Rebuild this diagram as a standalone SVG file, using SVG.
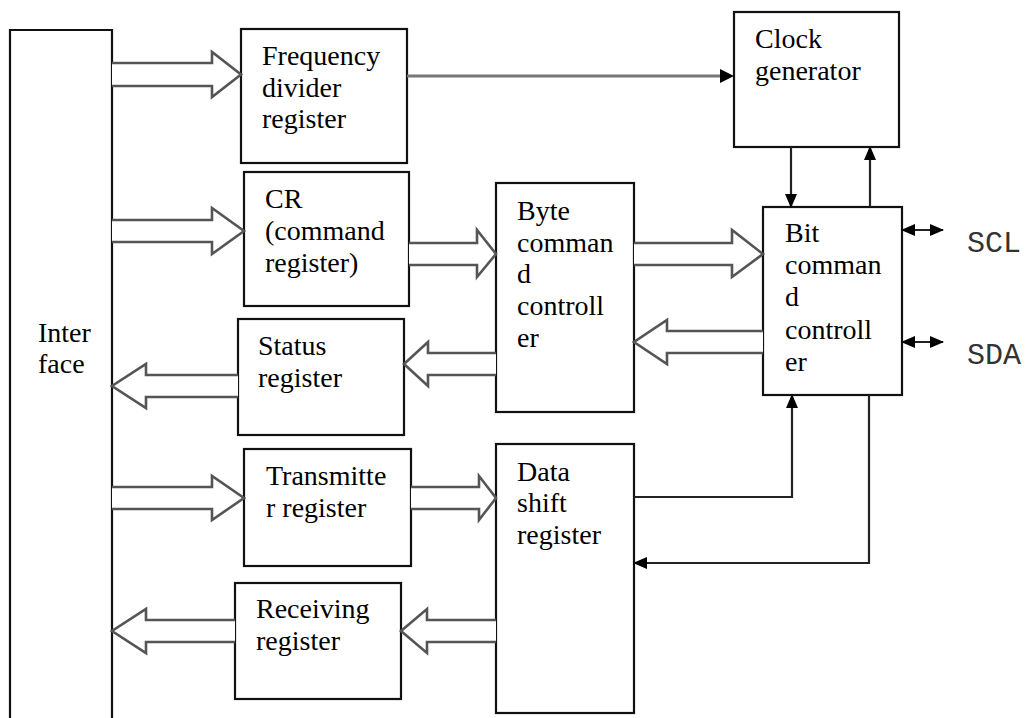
<svg xmlns="http://www.w3.org/2000/svg" width="1029" height="718" viewBox="0 0 1029 718">
  <style>
    .box { fill: #fff; stroke: #111; stroke-width: 2.2; }
    .lbl { font-family: "Liberation Serif", "Times New Roman", serif; font-size: 28px; fill: #000; }
    .pin { font-family: "Liberation Mono", "Courier New", monospace; font-size: 30px; fill: #333; }
    .bus { fill: #fff; stroke: #555; stroke-width: 2.6; stroke-linejoin: miter; }
    .wire { fill: none; stroke: #222; stroke-width: 2.2; }
    .feed { fill: none; stroke: #777; stroke-width: 3.2; }
  </style>
  <defs>
    <marker id="head" viewBox="0 0 14 12" refX="13" refY="6" markerWidth="14" markerHeight="12" markerUnits="userSpaceOnUse" orient="auto-start-reverse">
      <path d="M0,0 L14,6 L0,12 z" fill="#000"/>
    </marker>
  </defs>

  <rect width="1029" height="718" fill="#fff"/>

  <!-- Interface block (open at the bottom edge of the page) -->
  <g id="interface">
    <path d="M10,730 V30 H112 V730" fill="#fff" stroke="#111" stroke-width="2.2"/>
    <text class="lbl" x="38" y="342">Inter</text>
    <text class="lbl" x="38" y="373">face</text>
  </g>

  <g id="freq-divider">
    <rect class="box" x="241" y="29" width="166" height="134"/>
    <text class="lbl" x="262" y="65">Frequency</text>
    <text class="lbl" x="262" y="97">divider</text>
    <text class="lbl" x="262" y="128">register</text>
  </g>

  <g id="clock-generator">
    <rect class="box" x="734" y="12" width="165" height="135"/>
    <text class="lbl" x="755" y="48">Clock</text>
    <text class="lbl" x="755" y="80">generator</text>
  </g>

  <g id="command-register">
    <rect class="box" x="244" y="172" width="165" height="134"/>
    <text class="lbl" x="265" y="208">CR</text>
    <text class="lbl" x="265" y="240">(command</text>
    <text class="lbl" x="265" y="272">register)</text>
  </g>

  <g id="byte-controller">
    <rect class="box" x="496" y="183" width="138" height="229"/>
    <text class="lbl" x="517" y="220">Byte</text>
    <text class="lbl" x="517" y="252">comman</text>
    <text class="lbl" x="517" y="283">d</text>
    <text class="lbl" x="517" y="315">controll</text>
    <text class="lbl" x="517" y="347">er</text>
  </g>

  <g id="bit-controller">
    <rect class="box" x="763" y="207" width="139" height="188"/>
    <text class="lbl" x="785" y="242">Bit</text>
    <text class="lbl" x="785" y="274">comman</text>
    <text class="lbl" x="785" y="306">d</text>
    <text class="lbl" x="785" y="339">controll</text>
    <text class="lbl" x="785" y="371">er</text>
  </g>

  <g id="status-register">
    <rect class="box" x="238" y="319" width="166" height="116"/>
    <text class="lbl" x="258" y="355">Status</text>
    <text class="lbl" x="258" y="387">register</text>
  </g>

  <g id="transmitter-register">
    <rect class="box" x="244" y="449" width="167" height="117"/>
    <text class="lbl" x="266" y="485">Transmitte</text>
    <text class="lbl" x="266" y="517">r register</text>
  </g>

  <g id="data-shift-register">
    <rect class="box" x="496" y="444" width="138" height="269"/>
    <text class="lbl" x="517" y="481">Data</text>
    <text class="lbl" x="517" y="512">shift</text>
    <text class="lbl" x="517" y="544">register</text>
  </g>

  <g id="receiving-register">
    <rect class="box" x="235" y="583" width="166" height="116"/>
    <text class="lbl" x="256" y="618">Receiving</text>
    <text class="lbl" x="256" y="650">register</text>
  </g>

  <g id="pins">
    <text class="pin" x="967" y="252">SCL</text>
    <text class="pin" x="967" y="364">SDA</text>
  </g>

  <g id="connectors">
    <!-- hollow bus arrows -->
    <path class="bus" d="M112,63 H212 V52 L241,74.5 L212,97 V86 H112"/>
    <path class="bus" d="M112,220 H212 V208 L244,231 L212,254 V242 H112"/>
    <path class="bus" d="M409,243 H477 V230 L496,254 L477,277 V265 H409"/>
    <path class="bus" d="M634,243 H732 V230 L763,254 L732,277 V265 H634"/>
    <path class="bus" d="M763,331 H667 V320 L634,342 L667,364 V353 H763"/>
    <path class="bus" d="M496,353 H428 V342 L404,364 L428,386 V375 H496"/>
    <path class="bus" d="M238,375 H146 V364 L112,386 L146,408 V397 H238"/>
    <path class="bus" d="M112,487 H212 V476 L244,498 L212,520 V509 H112"/>
    <path class="bus" d="M411,487 H479 V476 L496,498 L479,520 V509 H411"/>
    <path class="bus" d="M496,620 H427 V609 L401,631 L427,653 V642 H496"/>
    <path class="bus" d="M235,620 H146 V609 L112,631 L146,653 V642 H235"/>

    <!-- clock feed -->
    <path class="feed" d="M407,76 H722"/>
    <path d="M720,69 L734,76 L720,83 z" fill="#000"/>

    <!-- single-line signals -->
    <path class="wire" d="M791,147 V207" marker-end="url(#head)"/>
    <path class="wire" d="M870,207 V147" marker-end="url(#head)"/>
    <path class="wire" d="M902,230 H943" marker-start="url(#head)" marker-end="url(#head)"/>
    <path class="wire" d="M902,342 H943" marker-start="url(#head)" marker-end="url(#head)"/>
    <path class="wire" d="M634,497 H792 V395" marker-end="url(#head)"/>
    <path class="wire" d="M869,395 V563 H634" marker-end="url(#head)"/>
  </g>
</svg>
